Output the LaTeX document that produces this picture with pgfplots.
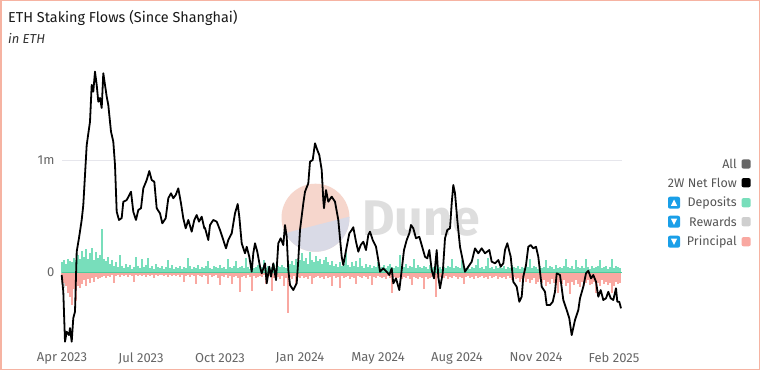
\documentclass[border=0pt]{standalone}
\usepackage{pgfplots}
\pgfplotsset{compat=1.18}
\usepackage{fontspec}
\setmainfont{Fira Sans}
\definecolor{dep}{HTML}{78DEBB}
\definecolor{prin}{HTML}{F9A8A1}
\definecolor{rew}{HTML}{CFCFCF}
\definecolor{zeroc}{HTML}{4CCB9C}
\definecolor{bord}{HTML}{F6B3A2}
\definecolor{ticc}{HTML}{666666}
\definecolor{legc}{HTML}{555555}
\definecolor{iconc}{HTML}{1A9FE8}
\definecolor{wmsal}{HTML}{F6D6CC}
\definecolor{wmlav}{HTML}{D9DAE6}
\definecolor{wmtxt}{HTML}{DEDEDE}
\definecolor{gridc}{HTML}{E6E6EC}
\begin{document}
\begin{tikzpicture}[x=1pt,y=1pt]
\useasboundingbox (0,0) rectangle (760,370);
\fill[white] (0,0) rectangle (760,370);
\draw[bord,line width=1.5pt] (0.75,0.75) rectangle (759.25,369.25);
\node[anchor=base west,inner sep=0,font=\fontsize{14.4}{16}\selectfont,text=black!90] at (8,347) {ETH Staking Flows (Since Shanghai)};
\node[anchor=base west,inner sep=0,font=\fontsize{13}{15}\selectfont\itshape,text=black!80] at (8,326) {in ETH};
% watermark
\fill[wmsal] (315.5,152.3) circle (34);
\begin{scope}
\clip (315.5,152.3) circle (34);
\fill[wmlav] (280,135.5) -- (352,154) -- (352,110) -- (280,110) -- cycle;
\end{scope}
\node[font=\fontsize{50}{50}\selectfont\bfseries,text=wmtxt,inner sep=0] at (421,151) {Dune};
% legend
\foreach \yy/\lab/\col in {164/All/black!60,182.7/2W Net Flow/black,202.7/Deposits/dep,221.7/Rewards/rew,241.7/Principal/prin}{
  \node[anchor=east,inner sep=0,font=\fontsize{12.5}{14}\selectfont,text=legc] at (737,370-\yy) {\lab};
  \fill[\col,rounded corners=2pt] (741.5,370-\yy-4.6) rectangle (750.7,370-\yy+4.6);
}
\fill[iconc,rounded corners=2pt] (668,370-202.7-6) rectangle (680,370-202.7+6);
\fill[white] (670.8,370-202.7-3.2) -- (677.2,370-202.7-3.2) -- (674,370-202.7+3.2) -- cycle;
\foreach \yy in {221.7,241.7}{
  \fill[iconc,rounded corners=2pt] (668,370-\yy-6) rectangle (680,370-\yy+6);
  \fill[white] (670.8,370-\yy+3.2) -- (677.2,370-\yy+3.2) -- (674,370-\yy-3.2) -- cycle;
}
\begin{axis}[
  at={(62pt,25pt)}, anchor=south west,
  width=560pt, height=280pt, scale only axis,
  xmin=62, xmax=622, ymin=-0.644, ymax=1.844,
  axis line style={draw=none}, tick style={draw=none},
  ytick={0,1}, yticklabels={0,1m},
  ymajorgrids, grid style={gridc, line width=0.8pt},
  xtick={62,141,220,300,378,457,536,614},
  xticklabels={Apr 2023,Jul 2023,Oct 2023,Jan 2024,May 2024,Aug 2024,Nov 2024,Feb 2025},
  /pgf/number format/assume math mode=true,
  ticklabel style={font=\fontsize{13}{15}\selectfont, text=ticc},
  xticklabel style={yshift=-4.5pt},
  yticklabel style={xshift=-4pt},
  clip=false,
]
% rewards (early)
\addplot[ycomb, rew, line width=1.2pt, no marks] table[header=false,row sep=\\,x expr=62+2*\coordindex,y index=0] {
-0.10\\-0.14\\-0.08\\-0.12\\-0.06\\-0.10\\-0.05\\-0.08\\-0.04\\-0.06\\-0.03\\-0.05\\-0.02\\-0.03\\-0.02\\-0.03\\-0.02\\-0.02\\-0.02\\
};
% principal
\addplot[ycomb, prin, line width=1.2pt, no marks] table[header=false,row sep=\\,x expr=62+2*\coordindex,y index=0] {
-0.06\\-0.09\\-0.12\\-0.18\\-0.22\\-0.29\\-0.15\\-0.25\\-0.12\\-0.14\\
-0.10\\-0.07\\-0.12\\-0.06\\-0.09\\-0.05\\-0.08\\-0.04\\-0.06\\-0.05\\
-0.04\\-0.03\\-0.05\\-0.03\\-0.04\\-0.02\\-0.09\\-0.03\\-0.02\\-0.04\\
-0.02\\-0.03\\-0.02\\-0.04\\-0.02\\-0.03\\-0.08\\-0.02\\-0.03\\-0.02\\
-0.03\\-0.02\\-0.04\\-0.02\\-0.03\\-0.02\\-0.05\\-0.02\\-0.03\\-0.02\\
-0.02\\-0.03\\-0.02\\-0.04\\-0.02\\-0.03\\-0.02\\-0.03\\-0.02\\-0.04\\
-0.02\\-0.08\\-0.03\\-0.02\\-0.04\\-0.02\\-0.03\\-0.10\\-0.02\\-0.03\\
-0.04\\-0.02\\-0.03\\-0.10\\-0.02\\-0.04\\-0.03\\-0.02\\-0.05\\-0.11\\
-0.03\\-0.04\\-0.02\\-0.05\\-0.03\\-0.10\\-0.04\\-0.03\\-0.05\\-0.17\\
-0.04\\-0.03\\-0.05\\-0.02\\-0.04\\-0.16\\-0.03\\-0.05\\-0.04\\-0.03\\
-0.04\\-0.02\\-0.10\\-0.04\\-0.03\\-0.16\\-0.05\\-0.03\\-0.04\\-0.06\\
-0.03\\-0.12\\-0.05\\-0.36\\-0.04\\-0.06\\-0.03\\-0.10\\-0.04\\-0.05\\
-0.03\\-0.05\\-0.04\\-0.06\\-0.03\\-0.10\\-0.05\\-0.04\\-0.03\\-0.05\\
-0.04\\-0.06\\-0.03\\-0.05\\-0.04\\-0.12\\-0.03\\-0.05\\-0.04\\-0.14\\
-0.03\\-0.05\\-0.04\\-0.03\\-0.06\\-0.04\\-0.05\\-0.10\\-0.03\\-0.04\\
-0.05\\-0.03\\-0.04\\-0.06\\-0.03\\-0.11\\-0.04\\-0.05\\-0.03\\-0.04\\
-0.05\\-0.04\\-0.06\\-0.03\\-0.05\\-0.18\\-0.04\\-0.06\\-0.05\\-0.04\\
-0.06\\-0.04\\-0.05\\-0.03\\-0.06\\-0.11\\-0.04\\-0.05\\-0.06\\-0.04\\
-0.05\\-0.15\\-0.04\\-0.06\\-0.05\\-0.04\\-0.06\\-0.22\\-0.05\\-0.04\\
-0.04\\-0.05\\-0.03\\-0.06\\-0.04\\-0.05\\-0.03\\-0.04\\-0.06\\-0.04\\
-0.05\\-0.10\\-0.04\\-0.03\\-0.05\\-0.04\\-0.06\\-0.03\\-0.05\\-0.04\\
-0.03\\-0.05\\-0.04\\-0.06\\-0.03\\-0.05\\-0.04\\-0.03\\-0.06\\-0.04\\
-0.05\\-0.04\\-0.06\\-0.03\\-0.05\\-0.07\\-0.04\\-0.06\\-0.05\\-0.08\\
-0.06\\-0.05\\-0.08\\-0.06\\-0.09\\-0.07\\-0.05\\-0.10\\-0.08\\-0.06\\
-0.09\\-0.07\\-0.12\\-0.08\\-0.10\\-0.06\\-0.09\\-0.11\\-0.18\\-0.08\\
-0.10\\-0.07\\-0.12\\-0.09\\-0.19\\-0.08\\-0.11\\-0.07\\-0.10\\-0.13\\
-0.08\\-0.12\\-0.09\\-0.07\\-0.11\\-0.10\\-0.08\\-0.18\\-0.09\\-0.12\\
-0.07\\-0.10\\-0.08\\-0.11\\-0.09\\-0.18\\-0.12\\-0.08\\-0.10\\-0.09\\
};
% deposits
\addplot[ycomb, dep, line width=1.2pt, no marks] table[header=false,row sep=\\,x expr=62+2*\coordindex,y index=0] {
0.09\\0.11\\0.08\\0.12\\0.10\\0.09\\0.13\\0.11\\0.16\\0.12\\
0.19\\0.14\\0.21\\0.12\\0.17\\0.22\\0.11\\0.18\\0.13\\0.16\\
0.39\\0.12\\0.10\\0.14\\0.08\\0.11\\0.06\\0.09\\0.05\\0.16\\
0.06\\0.04\\0.08\\0.05\\0.07\\0.03\\0.05\\0.14\\0.06\\0.04\\
0.12\\0.05\\0.07\\0.13\\0.04\\0.06\\0.03\\0.08\\0.05\\0.04\\
0.06\\0.03\\0.05\\0.11\\0.04\\0.07\\0.03\\0.05\\0.04\\0.06\\
0.03\\0.05\\0.04\\0.13\\0.06\\0.03\\0.05\\0.04\\0.07\\0.03\\
0.05\\0.04\\0.06\\0.10\\0.04\\0.03\\0.06\\0.05\\0.04\\0.07\\
0.04\\0.05\\0.03\\0.12\\0.05\\0.04\\0.06\\0.10\\0.04\\0.05\\
0.06\\0.04\\0.13\\0.05\\0.03\\0.06\\0.04\\0.05\\0.07\\0.04\\
0.05\\0.11\\0.04\\0.06\\0.03\\0.05\\0.08\\0.04\\0.06\\0.05\\
0.07\\0.05\\0.04\\0.06\\0.08\\0.10\\0.07\\0.12\\0.09\\0.11\\
0.17\\0.10\\0.13\\0.08\\0.18\\0.11\\0.09\\0.15\\0.10\\0.12\\
0.08\\0.11\\0.14\\0.09\\0.07\\0.10\\0.06\\0.08\\0.05\\0.09\\
0.06\\0.08\\0.17\\0.07\\0.05\\0.09\\0.06\\0.10\\0.05\\0.13\\
0.06\\0.04\\0.08\\0.05\\0.07\\0.04\\0.06\\0.05\\0.09\\0.04\\
0.05\\0.07\\0.04\\0.06\\0.08\\0.05\\0.04\\0.06\\0.05\\0.16\\
0.06\\0.05\\0.08\\0.04\\0.06\\0.05\\0.12\\0.04\\0.07\\0.05\\
0.04\\0.06\\0.05\\0.03\\0.07\\0.04\\0.05\\0.06\\0.04\\0.05\\
0.03\\0.05\\0.04\\0.06\\0.05\\0.12\\0.04\\0.06\\0.05\\0.04\\
0.11\\0.05\\0.04\\0.06\\0.03\\0.05\\0.04\\0.07\\0.12\\0.04\\
0.05\\0.03\\0.06\\0.13\\0.04\\0.05\\0.03\\0.06\\0.04\\0.05\\
0.04\\0.06\\0.03\\0.05\\0.04\\0.07\\0.05\\0.04\\0.06\\0.03\\
0.05\\0.04\\0.06\\0.05\\0.12\\0.04\\0.06\\0.05\\0.03\\0.06\\
0.04\\0.05\\0.11\\0.04\\0.06\\0.05\\0.03\\0.07\\0.04\\0.05\\
0.04\\0.06\\0.12\\0.05\\0.04\\0.06\\0.03\\0.11\\0.05\\0.04\\
0.06\\0.04\\0.12\\0.05\\0.03\\0.06\\0.04\\0.05\\0.06\\0.11\\
0.04\\0.05\\0.06\\0.03\\0.05\\0.12\\0.04\\0.06\\0.05\\0.04\\
};
\draw[zeroc, line width=1.4pt] (axis cs:62,0) -- (axis cs:622,0);
% 2W net flow
\addplot[black, line width=1.8pt, no marks, line join=round] coordinates {
(61.7,-0.022)(63.3,-0.171)(65,-0.615)(66.7,-0.526)(69,-0.556)(70,-0.493)(71.7,-0.615)(73.3,-0.404)(75,-0.348)
(76.7,0.185)(79,0.307)(81.7,0.467)(83.3,0.600)(86.7,1.133)(90,1.340)(91.7,1.667)(93.3,1.607)(95,1.785)(96.7,1.667)
(98.3,1.518)(100,1.551)(101.7,1.462)(103.3,1.771)(105,1.667)(106.7,1.563)(108.3,1.489)(111,1.252)(113.3,1.163)
(115,0.956)(116.7,0.540)(119,0.467)(121.7,0.484)(123.3,0.629)(126.7,0.644)(131,0.718)(133.3,0.540)(136,0.467)
(138.3,0.556)(141,0.571)(143.3,0.748)(146.7,0.822)(149.3,0.902)(151.7,0.822)(154.3,0.807)(156.7,0.571)(160,0.526)
(162.3,0.437)(165.7,0.482)(168.3,0.660)(171,0.704)(173.3,0.660)(175.7,0.689)(178.3,0.748)(181,0.615)(183.3,0.482)
(185.7,0.393)(188.3,0.467)(191.7,0.363)(194.3,0.467)(196.7,0.511)(199,0.452)(201.7,0.496)(204.3,0.393)
(205,0.396)(208.3,0.289)(210,0.422)(213.3,0.467)(216.7,0.452)(220,0.378)(223.3,0.289)(226,0.215)(228.3,0.289)
(231.7,0.348)(235,0.526)(237.7,0.609)(239.3,0.496)(241.7,0.260)(245,0.171)(246.7,0.229)(249.3,0.140)(251.7,0.007)
(253.3,0.171)(255,0.260)(257.3,0.185)(260,0.052)(261.7,-0.007)(265,0.082)(266.7,-0.096)(269.3,0.052)(271,-0.037)
(273.3,0.082)(276,-0.067)(278.3,0.260)(280.7,0.304)(283.3,0.244)(285,0.422)(286.7,0.318)(288.3,0.022)(290,-0.111)
(293.3,-0.156)(296.7,-0.096)(298.3,0.111)(300,0.378)(303.3,0.615)(305,0.718)(308.3,0.793)(310,0.985)(312.7,1.000)
(315,1.148)(317.3,1.089)(319.3,1.044)(321.7,0.911)(323.3,0.644)(324,0.571)(326,0.733)(328.3,0.629)(331.7,0.674)
(335,0.629)(338.3,0.467)(341.7,0.140)(343.3,0.067)(346.7,0.229)(349.3,0.348)(351.7,0.378)(353.3,0.402)(356,0.274)
(358.3,0.185)(360.7,0.244)(363.3,0.274)(366,0.200)(368.3,0.333)(370,0.363)(372.7,0.289)(376,0.229)(378.3,0.111)
(380,0.007)(383.3,0.037)(386.7,0.007)(389.3,-0.022)(391.7,0.037)(393.3,-0.096)(396,-0.052)(399.3,-0.156)(401.7,0.022)
(404,0.200)(406.7,0.289)(409.3,0.348)(411,0.422)(413.3,0.393)(416,0.304)(419.3,0.318)(421.7,0.244)(425,0.140)
(427.3,0.126)(429.3,0.200)(431.7,0.022)(434,-0.052)(436.7,0.200)(438.3,-0.037)(440,-0.140)(442.7,-0.007)(445,0.304)
(447.3,0.378)(450,0.393)(451.7,0.615)(453.3,0.778)(455,0.704)(457.3,0.467)(460,0.229)(462.7,0.111)(465,0.007)
(468.3,0.052)(471.7,0.096)(475,0.215)(478.3,0.171)(481.7,0.215)(485,0.171)(489.3,0.200)(491.7,0.096)(495,0.082)
(498.3,0.111)(500.7,0.052)(503.3,0.082)(505,0.200)(507.3,0.260)(510.7,0.140)(513.3,-0.082)(516.7,-0.126)(519.3,-0.260)
(521.7,-0.215)(523.3,-0.037)(526,0.067)(528.3,0.229)(530.7,0.244)(533.3,0.215)(536,0.229)(538.3,0.140)(541.7,-0.126)
(545,-0.171)(546.7,-0.289)(550,-0.289)(552.7,-0.260)(555,-0.171)(556.7,-0.007)(560,-0.022)(563.3,-0.244)(566.7,-0.333)
(569.3,-0.407)(571.7,-0.556)(575,-0.422)(578.3,-0.333)(580,-0.229)(583.3,-0.126)(586,-0.007)(588.3,0.016)(591,-0.052)
(593.3,-0.022)(596,-0.082)(598.3,-0.215)(600.7,-0.156)(603.3,-0.244)(606,-0.229)(608.3,-0.171)(610.7,-0.229)
(613.3,-0.244)(616,-0.140)(617.3,-0.260)(619.3,-0.260)(621,-0.318)
};
\end{axis}
\end{tikzpicture}
\end{document}
